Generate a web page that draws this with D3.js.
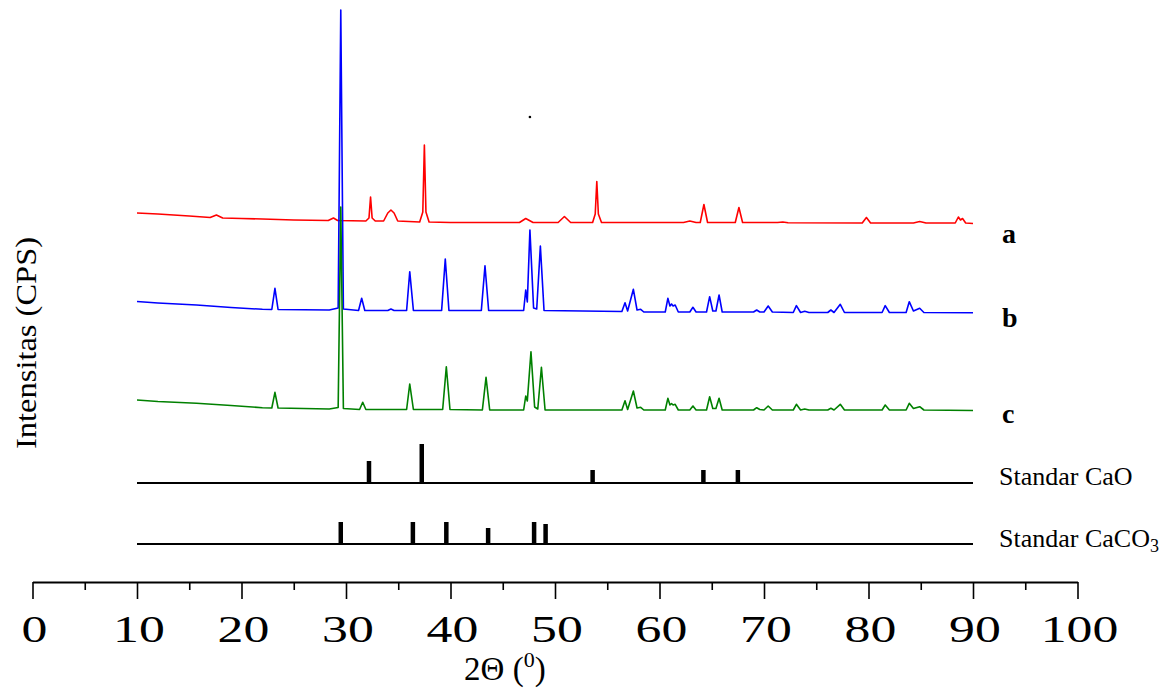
<!DOCTYPE html>
<html>
<head>
<meta charset="utf-8">
<script src="https://cdn.jsdelivr.net/npm/d3@7"></script>
<style>
  html, body { margin: 0; padding: 0; background: #fff; }
  svg { display: block; }
</style>
</head>
<body>
<div id="chart"></div>
<script>
// ---------- DATA (2θ in degrees, intensity in arbitrary CPS, curves stacked as plotted) ----------
const xTicksMajor = [0, 10, 20, 30, 40, 50, 60, 70, 80, 90, 100];
const xTicksMinor = [5, 15, 25, 35, 45, 55, 65, 75, 85, 95];

const seriesNames = ["a", "b", "c"];
const seriesColors = ["#ff0000", "#0000ff", "#008000"];

const seriesA = [
  [10, 3690], [12, 3680], [15, 3660], [17.0, 3645], [17.6, 3670], [18.2, 3640], [20, 3635],
  [22, 3630], [25, 3620], [28.3, 3615], [28.8, 3640], [29.2, 3615], [31.9, 3610], [32.2, 3640], [32.35, 3850],
  [32.5, 3640], [32.8, 3610], [33.6, 3610], [34.0, 3690], [34.3, 3720], [34.6, 3690], [34.95, 3610], [37.05, 3600],
  [37.35, 3700], [37.5, 4370], [37.65, 3700], [37.95, 3600], [40, 3595], [45, 3595], [46.6, 3595], [47.2, 3635], [47.9, 3595],
  [50.3, 3595], [50.9, 3655], [51.5, 3595], [53.6, 3595], [53.85, 3680], [54.0, 4005], [54.15, 3680], [54.45, 3595], [60, 3595],
  [62.3, 3595], [62.9, 3610], [63.5, 3595], [63.9, 3595], [64.25, 3775], [64.6, 3595], [67.25, 3595],
  [67.6, 3745], [67.95, 3595], [71.3, 3595], [71.8, 3600], [72.3, 3593], [79.4, 3590], [79.8, 3645],
  [80.2, 3590], [84.3, 3590], [84.9, 3605], [85.5, 3590], [88.3, 3590], [88.6, 3650], [88.8, 3620],
  [89.0, 3635], [89.3, 3590], [90, 3585]
];

const seriesB = [
  [10, 2805], [12, 2790], [15.7, 2770], [19, 2745], [22, 2727], [22.9, 2725], [23.2, 2937], [23.5, 2725],
  [28.4, 2720], [29.25, 2740], [29.5, 5720], [29.75, 2730], [31.2, 2715], [31.5, 2837], [31.8, 2715],
  [34.0, 2715], [34.3, 2730], [34.6, 2715], [35.8, 2715], [36.1, 3103], [36.45, 2715], [39.15, 2715],
  [39.5, 3230], [39.85, 2715], [42.95, 2715], [43.3, 3163], [43.65, 2715], [47.0, 2715], [47.2, 2920],
  [47.35, 2800], [47.6, 3520], [47.95, 2740], [48.25, 2730], [48.6, 3360], [48.95, 2715], [56.4, 2705],
  [56.7, 2793], [56.95, 2710], [57.5, 2927], [57.85, 2720], [58.2, 2727], [58.5, 2700], [60.55, 2700],
  [60.8, 2837], [61.0, 2760], [61.15, 2780], [61.3, 2760], [61.5, 2770], [61.8, 2700], [62.9, 2700],
  [63.2, 2747], [63.5, 2700], [64.5, 2700], [64.8, 2853], [65.1, 2710], [65.4, 2710], [65.7, 2870],
  [66.0, 2700], [69.0, 2700], [69.3, 2720], [69.6, 2700], [70.0, 2700], [70.4, 2760], [70.8, 2700],
  [72.8, 2695], [73.1, 2763], [73.5, 2695], [73.9, 2707], [74.3, 2695], [76.1, 2695], [76.4, 2720],
  [76.7, 2695], [77.3, 2777], [77.7, 2695], [81.3, 2695], [81.6, 2763], [82.0, 2695], [83.6, 2695],
  [83.9, 2803], [84.3, 2710], [84.9, 2737], [85.3, 2695], [90, 2693]
];

const seriesC = [
  [10, 1820], [12, 1805], [15.7, 1787], [19, 1765], [22, 1743], [22.9, 1740], [23.2, 1897], [23.5, 1740],
  [28.4, 1730], [29.25, 1745], [29.5, 3750], [29.75, 1735], [31.3, 1725], [31.6, 1797], [31.9, 1725],
  [35.8, 1725], [36.1, 1980], [36.45, 1725], [39.25, 1725], [39.6, 2153], [39.95, 1725], [43.05, 1720],
  [43.4, 2047], [43.75, 1720], [47.0, 1720], [47.2, 1860], [47.35, 1810], [47.7, 2303], [48.05, 1750],
  [48.35, 1730], [48.7, 2147], [49.05, 1720], [56.4, 1720], [56.7, 1813], [56.95, 1725], [57.5, 1910],
  [57.85, 1740], [58.2, 1747], [58.5, 1720], [60.55, 1720], [60.8, 1837], [61.0, 1770], [61.15, 1785],
  [61.3, 1770], [61.5, 1777], [61.8, 1720], [62.9, 1720], [63.2, 1760], [63.5, 1720], [64.5, 1720],
  [64.8, 1853], [65.1, 1735], [65.4, 1735], [65.7, 1837], [66.0, 1720], [69.0, 1720], [69.3, 1743],
  [69.6, 1725], [70.0, 1720], [70.4, 1760], [70.8, 1720], [72.8, 1720], [73.1, 1777], [73.5, 1720],
  [73.9, 1730], [74.3, 1720], [76.1, 1720], [76.4, 1737], [76.7, 1720], [77.3, 1777], [77.7, 1720],
  [81.3, 1720], [81.6, 1770], [82.0, 1720], [83.6, 1720], [83.9, 1787], [84.3, 1735], [84.9, 1753],
  [85.3, 1720], [90, 1715]
];

// reference patterns (stick lines): positions, intensities, baseline level
const caoPos = [32.2, 37.25, 53.6, 64.2, 67.5];
const caoInt = [220, 390, 130, 130, 130];
const caoBase = 990;
const caco3Pos = [29.5, 36.4, 39.6, 43.6, 48.0, 49.1];
const caco3Int = [220, 220, 220, 160, 220, 200];
const caco3Base = 380;
const stdRange = [10, 90];

const stray = [[47.6, 4650]];

// ---------- DRAW ----------
const W = 1173, H = 688;
const svg = d3.select("#chart").append("svg").attr("width", W).attr("height", H);
const x = d3.scaleLinear().domain([0, 100]).range([32.5, 1077.5]);
const y = d3.scaleLinear().domain([0, 5720]).range([582, 10]);
const serif = "'Liberation Serif', 'Times New Roman', serif";

// standards
function drawStd(pos, ints, base) {
  svg.append("line")
    .attr("x1", x(stdRange[0])).attr("x2", x(stdRange[1]))
    .attr("y1", y(base)).attr("y2", y(base))
    .attr("stroke", "#000").attr("stroke-width", 2);
  svg.selectAll(null).data(pos.map((p, i) => [p, ints[i]])).enter().append("line")
    .attr("x1", d => x(d[0])).attr("x2", d => x(d[0]))
    .attr("y1", y(base)).attr("y2", d => y(base + d[1]))
    .attr("stroke", "#000").attr("stroke-width", 4.5);
}
drawStd(caoPos, caoInt, caoBase);
drawStd(caco3Pos, caco3Int, caco3Base);

// curves
const line = d3.line().x(d => x(d[0])).y(d => y(d[1]));
[seriesA, seriesB, seriesC].forEach((s, i) => {
  svg.append("path").datum(s)
    .attr("d", line)
    .attr("fill", "none")
    .attr("stroke", seriesColors[i])
    .attr("stroke-width", 1.6)
    .attr("stroke-linejoin", "round");
});

svg.selectAll(null).data(stray).enter().append("circle")
  .attr("cx", d => x(d[0])).attr("cy", d => y(d[1])).attr("r", 1.3).attr("fill", "#000");

// x axis
const axisG = svg.append("g").attr("transform", `translate(0,${y(0)})`);
axisG.call(d3.axisBottom(x).tickValues(xTicksMajor).tickSize(17).tickSizeOuter(0).tickFormat(d3.format("d")));
axisG.select(".domain").attr("stroke-width", 2).attr("stroke", "#000");
axisG.selectAll(".tick line").attr("stroke-width", 1.6).attr("stroke", "#000");
axisG.selectAll(".tick text")
  .attr("y", 0).attr("dy", 0)
  .attr("transform", "translate(1.5,60) scale(1.4,1)")
  .attr("font-family", serif).attr("font-size", 37).attr("fill", "#000");
const minorG = svg.append("g").attr("transform", `translate(0,${y(0)})`);
minorG.call(d3.axisBottom(x).tickValues(xTicksMinor).tickSize(8).tickFormat(""));
minorG.select(".domain").remove();
minorG.selectAll(".tick line").attr("stroke-width", 1.6).attr("stroke", "#000");

// axis titles
const xt = svg.append("text")
  .attr("x", x(45.2)).attr("y", 680)
  .attr("text-anchor", "middle")
  .attr("font-family", serif).attr("font-size", 33).attr("fill", "#000");
xt.append("tspan").text("2Θ (");
xt.append("tspan").attr("font-size", 22).attr("dy", -13).text("0");
xt.append("tspan").attr("dy", 13).text(")");

svg.append("text")
  .attr("transform", `translate(36,343) rotate(-90)`)
  .attr("text-anchor", "middle")
  .attr("font-family", serif).attr("font-size", 30)
  .attr("textLength", 212).attr("lengthAdjust", "spacingAndGlyphs")
  .attr("fill", "#000")
  .text("Intensitas (CPS)");

// series labels
const labelY = [243, 327, 423];
seriesNames.forEach((n, i) => {
  svg.append("text")
    .attr("x", 1002).attr("y", labelY[i])
    .attr("font-family", serif).attr("font-size", 28).attr("font-weight", "bold")
    .attr("fill", "#000").text(n);
});
svg.append("text").attr("x", 999).attr("y", 485)
  .attr("font-family", serif).attr("font-size", 26).attr("fill", "#000")
  .text("Standar CaO");
const t2 = svg.append("text").attr("x", 999).attr("y", 547)
  .attr("font-family", serif).attr("font-size", 26).attr("fill", "#000");
t2.append("tspan").text("Standar CaCO");
t2.append("tspan").attr("font-size", 18).attr("dy", 5).text("3");
</script>
</body>
</html>
